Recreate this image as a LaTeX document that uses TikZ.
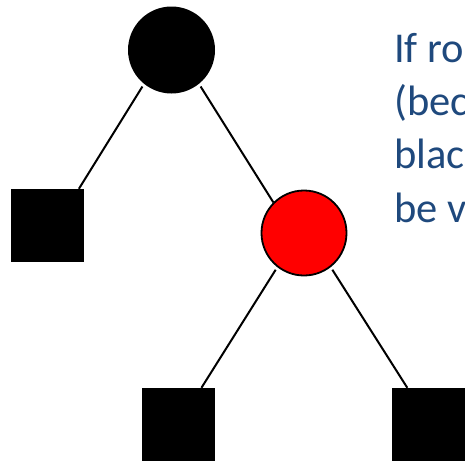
\documentclass[tikz,border=0pt]{standalone}
\usepackage{fontspec}
\setmainfont{Carlito}
\usepackage{xcolor}
\usetikzlibrary{positioning}

\definecolor{txtblue}{RGB}{31,73,125}

\begin{document}
\begin{tikzpicture}[x=1pt, y=-1pt,
  blk/.style={circle, fill=black, minimum size=87pt, inner sep=0pt},
  red/.style={circle, draw=black, fill=red, line width=1.8pt, minimum size=85pt, inner sep=0pt},
  leaf/.style={rectangle, fill=black, minimum size=73pt, inner sep=0pt},
  edge/.style={line width=2pt, black},
  txt/.style={anchor=base west, inner sep=0pt, text=txtblue, font=\fontsize{42.5}{53}\selectfont},
]
  \useasboundingbox (0,0) rectangle (465,461);
  \clip (0,0) rectangle (465,461);

  \node[blk]  (root) at (171.5,50)    {};
  \node[leaf] (lsq)  at (47,225.5)    {};
  \node[red]  (rn)   at (304,233)     {};
  \node[leaf] (bl)   at (178.5,424.5) {};
  \node[leaf] (br)   at (428.5,424.5) {};

  \draw[edge, shorten <=3pt] (root.231) -- (lsq.49);
  \draw[edge, shorten <=3pt] (root.-51) -- (rn.135);
  \draw[edge, shorten <=3pt] (rn.232)   -- (bl.58);
  \draw[edge, shorten <=3pt] (rn.-52)   -- (br.120);

  % text on the right, cut off by the frame
  \node[txt] (l1) at (394,62)    {If ro};
  \node[txt] (l2) at (394,115.3) {(bec};
  \node[txt] (l3) at (394,168.6) {blac};
  \node[txt] (l4) at (394,222)   {be v};
\end{tikzpicture}
\end{document}
